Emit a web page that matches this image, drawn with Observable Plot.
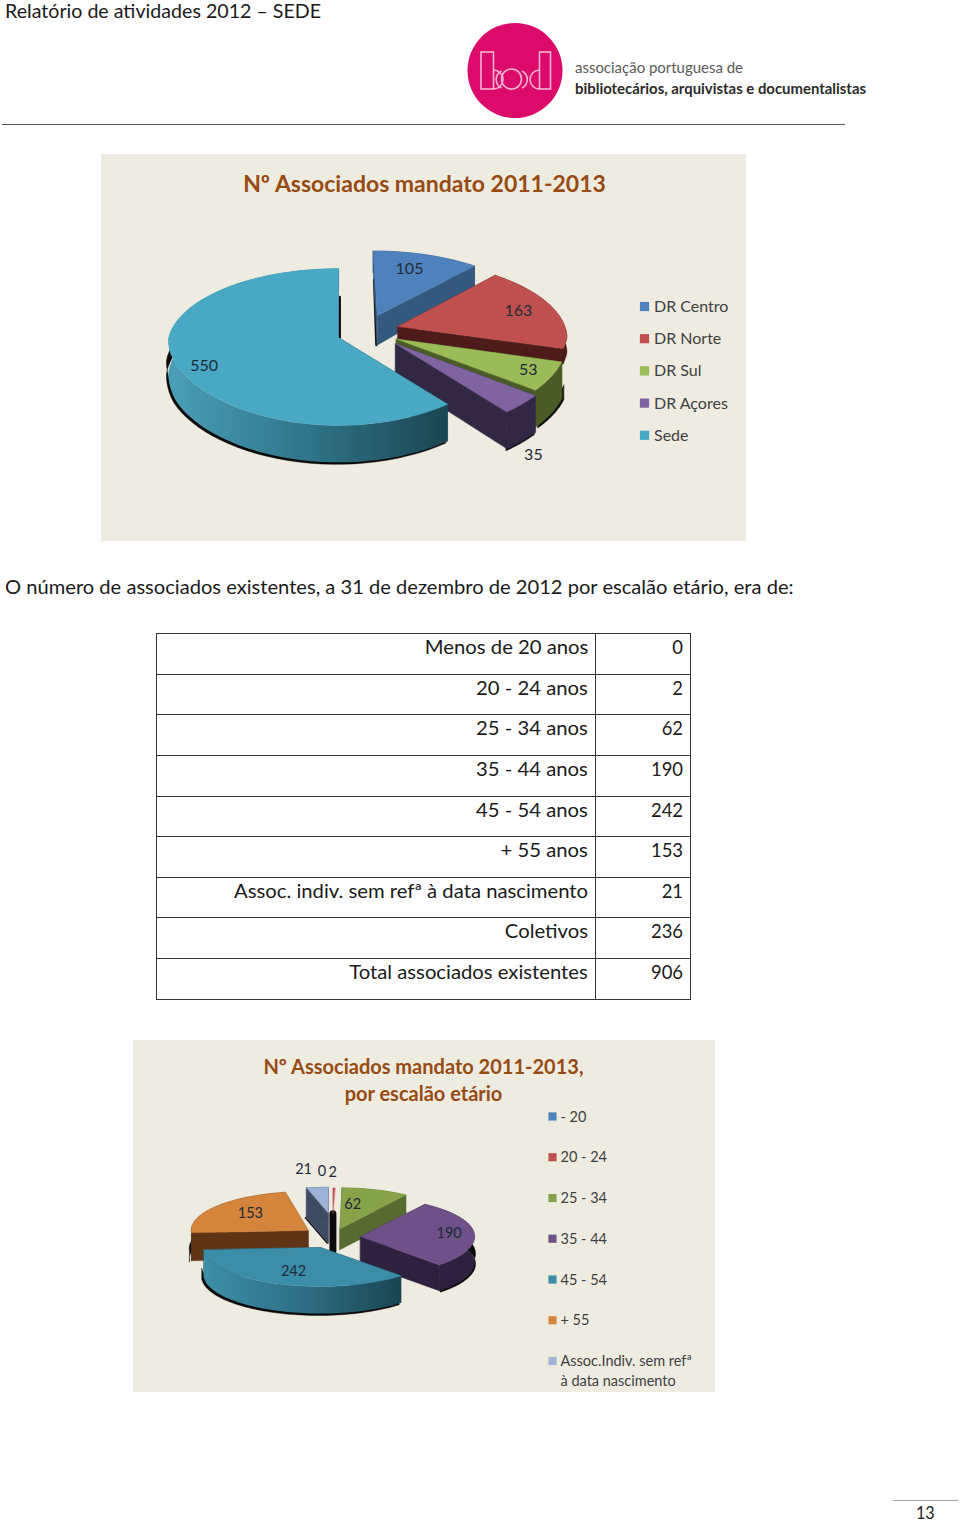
<!DOCTYPE html>
<html lang="pt">
<head>
<meta charset="utf-8">
<script src="https://cdn.jsdelivr.net/npm/d3@7"></script>
<script src="https://cdn.jsdelivr.net/npm/@observablehq/plot@0.6"></script>
<style>
html,body{margin:0;padding:0;background:#fff;}
#page{position:relative;width:960px;height:1523px;overflow:hidden;font-family:Lato,sans-serif;color:#1a1a1a;}
.line{position:absolute;white-space:nowrap;transform-origin:left center;}
.chart{position:absolute;}
table{position:absolute;left:156px;top:633px;border-collapse:collapse;table-layout:fixed;font-size:19px;}
td{border:1px solid #333;height:38.65px;padding:1px 7px 0 0;box-sizing:content-box;vertical-align:top;text-align:right;line-height:24px;}
td span{display:inline-block;transform-origin:right center;white-space:nowrap;}
.rule{position:absolute;}
</style>
</head>
<body>
<div id="page"></div>
<script>
// ---------- data ----------
const regionLabels = ["DR Centro", "DR Norte", "DR Sul", "DR Açores", "Sede"];
const regionValues = [105, 163, 53, 35, 550];
const ageLabels = ["- 20", "20 - 24", "25 - 34", "35 - 44", "45 - 54", "+ 55", "Assoc.Indiv. sem refª\nà data nascimento"];
const ageValues = [0, 2, 62, 190, 242, 153, 21];
const tableLabels = ["Menos de 20 anos", "20 - 24 anos", "25 - 34 anos", "35 - 44 anos", "45 - 54 anos", "+ 55 anos", "Assoc. indiv. sem refª à data nascimento", "Coletivos", "Total associados existentes"];
const tableValues = [0, 2, 62, 190, 242, 153, 21, 236, 906];

// ---------- per-slice styling ----------
const regionStyle = [
  {top:"#4f81bd", side:"#35587f", arc:"#35587f", ox:.236, oy:-.295, lab:[-3,-3], bars:[{r0:0,r1:.53,d0:1,d1:0,w:2,dx:-1}]},
  {top:"#c0504d", side:"#4f1b1a", arc:"#4f1b1a", ox:.355, oy:-.145, lab:[12,-2], depth:15},
  {top:"#9bbb59", side:"#4a5c26", arc:"#4a5c26", ox:.34, oy:.02, lab:[24,5], sh:[2,1]},
  {top:"#8064a2", side:"#332844", arc:"#332844", ox:.335, oy:.08, lab:[50,70], sh:[-1,2]},
  {top:"#49a8c3", side:"#1d4a58", arc:"url(#wallA)", ox:0, oy:0, lab:[-21,10], sh:[-2,2], bars:[{r0:.56,r1:0,d0:0,d1:0,w:2.5,dx:1.2,atEnd:true}]}
];
const ageStyle = [
  {top:"#4f81bd", side:"#35587f", arc:"#35587f", ox:.106, oy:-.864, sx:.95, sy:.66, lab:[-11,-24], depth:30},
  {top:"#c0504d", side:"#161010", arc:"#161010", ox:.106, oy:-.864, sx:.95, sy:.66, lab:[-1,-23], depth:37, noWall:true, bars:[{r0:0,r1:0,d0:0,d1:1,w:7,dx:0}]},
  {top:"#87a34a", side:"#556b2f", arc:"#556b2f", ox:.165, oy:-.48, sy:1.05, lab:[-12,3], depth:21},
  {top:"#6d5188", side:"#2e2140", arc:"#2e2140", ox:.342, oy:-.282, sx:.975, lab:[9,-1], depth:26, sh:[1,1.5]},
  {top:"#3c8da8", side:"#1d4a58", arc:"url(#wallB)", ox:0, oy:0, lab:[3,-2], depth:27, sh:[-2,2]},
  {top:"#d5843c", side:"#5e3415", arc:"#5e3415", ox:-.105, oy:-.436, lab:[7,0], depth:28, sh:[-2,1]},
  {top:"#9db2d6", side:"#3f4a63", arc:"#3f4a63", ox:.066, oy:-.883, sx:.95, sy:.66, lab:[-17,-26], depth:30, bars:[{r0:1,r1:0,d0:1,d1:1,w:1.5,dx:-1}]}
];
// back to front
const regionOrder = [0,1,2,3,4];
const ageOrder = [6,0,1,2,5,3,4];

// ---------- layout ----------
const chartA = {left:101, top:154, right:746, bottom:541, cx:338, cy:337, R:170, ry:77.3, k:.121, depth:33,
  title:[{t:"Nº Associados mandato 2011-2013", y:184}], titleSize:23, titleX:424, labelSize:16,
  legX:644, legTextX:653.5, legY0:306, legStep:32.2, legSize:16, legR:5.2, gradId:"wallA", grad:["#4a9fb8","#2f7488","#1b4552"]};
const chartB = {left:133, top:1040, right:715, bottom:1392, cx:320, cy:1247, R:117, ry:39, k:0, depth:27,
  title:[{t:"Nº Associados mandato 2011-2013,", y:1067},{t:"por escalão etário", y:1094}], titleSize:20, titleX:423, labelSize:14.5,
  legX:552, legTextX:560, legY0:1116, legStep:40.75, legSize:14.5, legR:4.6, gradId:"wallB", grad:["#3d8ea8","#2e6f85","#1a4552"]};

function pieChart(cfg, values, labels, styles, order) {
  const arcs = d3.pie().sort(null).value(d => d).startAngle(0).endAngle(2 * Math.PI)(values);
  const proj = (st, r, a, drop = 0) => {
    const wx = st.ox + r * (st.sx ?? 1) * Math.sin(a);
    const wy = st.oy - r * (st.sy ?? 1) * Math.cos(a);
    const s = 1 / (1 - cfg.k * wy);
    const d = (st.depth ?? cfg.depth) * Math.min(1.12, s * s * s);
    const sX = s > 1 ? Math.pow(s, .3) : s;
    return [cfg.cx + cfg.R * wx * sX, cfg.cy + cfg.ry * wy * s + drop * d];
  };
  const poly = (pts, fill, extra = {}) => Plot.line(pts, {
    x: d => d[0], y: d => d[1], curve: "linear-closed", fill,
    stroke: fill.startsWith("url") ? "none" : fill, strokeWidth: .4, ...extra
  });
  const marks = [];
  // gradient for the curved wall of the largest slice
  marks.push(() => {
    const defs = d3.create("svg:defs");
    const g = defs.append("linearGradient").attr("id", cfg.gradId);
    cfg.grad.forEach((c, i) => g.append("stop").attr("offset", `${i * 50}%`).attr("stop-color", c));
    return defs.node();
  });
  for (const i of order) {
    const arc = arcs[i], st = styles[i];
    for (const b of st.bars ?? []) {
      const a = b.atEnd ? arc.endAngle : arc.startAngle;
      marks.push(Plot.line([proj(st, b.r0, a, b.d0), proj(st, b.r1, a, b.d1)], {
        x: d => d[0], y: d => d[1], stroke: b.color ?? "#0c0c0c", strokeWidth: b.w, dx: b.dx
      }));
    }
    if (arc.endAngle - arc.startAngle < 1e-6) continue;
    const angles = d3.range(0, 61).map(t => arc.startAngle + (arc.endAngle - arc.startAngle) * t / 60);
    const rim = angles.map(a => proj(st, 1, a));
    const rimMid = angles.map(a => proj(st, 1, a, .6));
    const rimLow = angles.map(a => proj(st, 1, a, 1)).reverse();
    const apex = proj(st, 0, 0), apexLow = proj(st, 0, 0, 1);
    if (!st.noWall) {
      if (st.sh) marks.push(poly([...rimMid, ...rimLow], "#0a0a0a", {dx: st.sh[0], dy: st.sh[1]}));
      marks.push(poly([apex, rim[0], rimLow[60], apexLow], st.side));
      marks.push(poly([apex, rim[60], rimLow[0], apexLow], st.side));
      marks.push(poly([...rim, ...rimLow], st.arc));
    }
    marks.push(poly([apex, ...rim], st.top));
  }
  // value labels, anchored on each slice's mid-angle
  marks.push(Plot.text(arcs.map((arc, i) => {
    const p = proj(styles[i], .7, (arc.startAngle + arc.endAngle) / 2);
    return {x: p[0] + styles[i].lab[0], y: p[1] + styles[i].lab[1], text: String(values[i])};
  }), {x: "x", y: "y", text: "text", fontSize: cfg.labelSize, fill: "#1f2a38"}));
  // title
  marks.push(Plot.text(cfg.title, {x: () => cfg.titleX, y: "y", text: "t", fontSize: cfg.titleSize, fontWeight: 700, fill: "#974b12"}));
  // legend
  const rows = labels.map((l, i) => ({l, y: cfg.legY0 + i * cfg.legStep, c: styles[i].top}));
  marks.push(Plot.dot(rows, {x: () => cfg.legX, y: "y", symbol: "square", r: cfg.legR, fill: d => d.c}));
  marks.push(Plot.text(rows, {x: () => cfg.legTextX, y: "y", text: "l", textAnchor: "start", lineAnchor: "top", dy: -cfg.legSize * .62, lineHeight: 1.36, fontSize: cfg.legSize, fill: "#404040"}));

  const w = cfg.right - cfg.left, h = cfg.bottom - cfg.top;
  const svg = Plot.plot({
    width: w, height: h, margin: 0,
    x: {domain: [cfg.left, cfg.right], range: [0, w], axis: null},
    y: {domain: [cfg.top, cfg.bottom], range: [0, h], axis: null},
    color: {type: "identity"},
    style: {background: "#eeece1", fontFamily: "Lato, sans-serif", display: "block", maxWidth: "none"},
    marks
  });
  const holder = document.createElement("div");
  holder.className = "chart";
  holder.style.left = cfg.left + "px";
  holder.style.top = cfg.top + "px";
  holder.appendChild(svg);
  return holder;
}

const page = document.getElementById("page");

function line(text, left, top, width, size, lh) {
  const el = document.createElement("div");
  el.className = "line";
  el.textContent = text;
  el.style.left = left + "px";
  el.style.top = top + "px";
  el.style.fontSize = size + "px";
  el.style.lineHeight = lh + "px";
  page.appendChild(el);
  el.style.transform = `scaleX(${width / el.offsetWidth})`;
  return el;
}
function rule(left, top, width, height, color) {
  const el = document.createElement("div");
  el.className = "rule";
  Object.assign(el.style, {left: left + "px", top: top + "px", width: width + "px", height: height + "px", background: color});
  page.appendChild(el);
}

// header
line("Relatório de atividades 2012 – SEDE", 5, 0, 316, 19, 22);
rule(2, 124, 843, 1.4, "#555");

// logo
const logo = document.createElement("div");
logo.style.cssText = "position:absolute;left:460px;top:10px;";
logo.innerHTML = `<svg width="420" height="115" style="display:block;font-family:Lato,sans-serif">
  <circle cx="55" cy="60.5" r="47.5" fill="#dc0b6b"/>
  <g fill="none" stroke="#f6b4d0" stroke-width="1.6">
    <rect x="21" y="42" width="12.5" height="37"/><rect x="79.5" y="42" width="11" height="37"/>
    <circle cx="51.5" cy="69" r="10"/>
    <path d="M33.5 60a9.5 9.5 0 0 1 0 19M79.5 60a9.5 9.5 0 0 0 0 19"/>
    <path d="M41.5 61a9.5 9.5 0 0 0 0 17M62 61a9.5 9.5 0 0 1 0 17"/>
  </g>
  <text x="115" y="63" font-size="15" fill="#5a5a5a" textLength="168" lengthAdjust="spacingAndGlyphs">associação portuguesa de</text>
  <text x="115" y="84" font-size="14.5" font-weight="700" fill="#2b2b2b" textLength="291" lengthAdjust="spacingAndGlyphs">bibliotecários, arquivistas e documentalistas</text>
</svg>`;
page.appendChild(logo);

// first chart
page.appendChild(pieChart(chartA, regionValues, regionLabels, regionStyle, regionOrder));

// sentence
line("O número de associados existentes, a 31 de dezembro de 2012 por escalão etário, era de:", 5, 575, 789, 19, 24);

// table
const table = document.createElement("table");
table.innerHTML = `<colgroup><col style="width:439px"><col style="width:95px"></colgroup>` +
  tableLabels.map((l, i) => `<tr><td><span>${l}</span></td><td><span>${tableValues[i]}</span></td></tr>`).join("");
page.appendChild(table);
const labelSpans = [...table.querySelectorAll("td:first-child span")];
const valueSpans = [...table.querySelectorAll("td:last-child span")];
const labelSqueeze = 354 / labelSpans[6].offsetWidth;
const valueSqueeze = 32 / valueSpans[3].offsetWidth;
labelSpans.forEach(s => s.style.transform = `scaleX(${labelSqueeze})`);
valueSpans.forEach(s => s.style.transform = `scaleX(${valueSqueeze})`);

// second chart
page.appendChild(pieChart(chartB, ageValues, ageLabels, ageStyle, ageOrder));

// footer
rule(893, 1500, 65, 1, "#a6a6a6");
line("13", 916, 1503, 19, 17, 20);
</script>
</body>
</html>
